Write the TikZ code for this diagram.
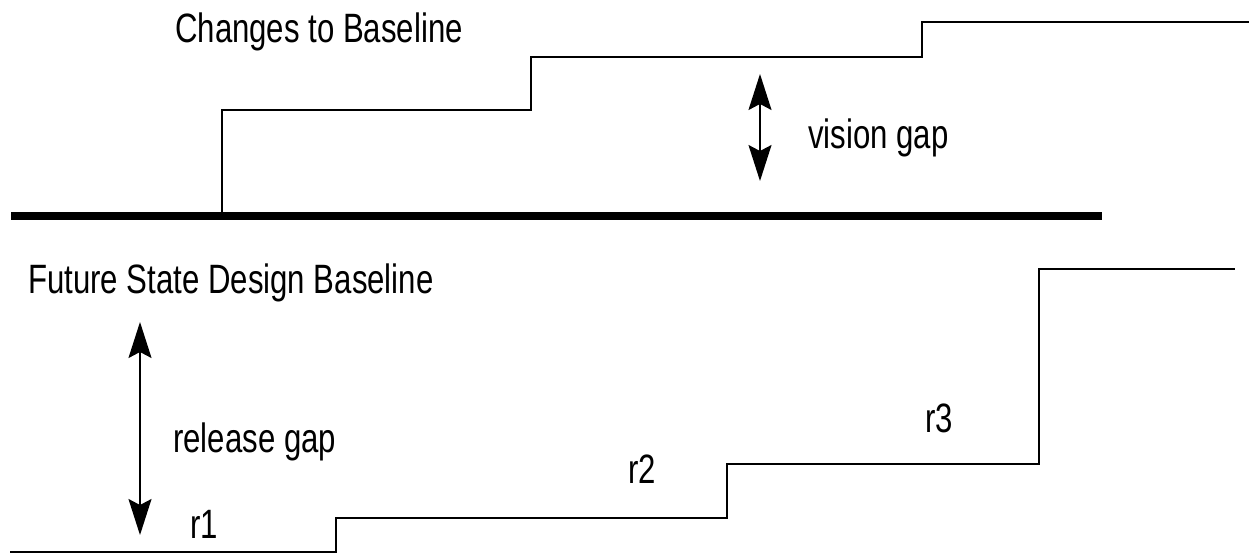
\documentclass[tikz,border=0pt]{standalone}
\usepackage{fontspec}
\setmainfont[FakeStretch=0.76]{Liberation Sans}
\usetikzlibrary{arrows.meta}
\begin{document}
\begin{tikzpicture}[x=1pt,y=-1pt,
  lbl/.style={anchor=base west,inner sep=0pt,font=\fontsize{41}{49}\selectfont},
  stair/.style={line width=2pt,line join=miter},
  gaparrow/.style={line width=1.6pt,{Stealth[length=36pt,width=23pt,inset=6pt]}-{Stealth[length=36pt,width=23pt,inset=6pt]}}]
\useasboundingbox (0,0) rectangle (1249,554);
% thick baseline
\draw[line width=8pt] (11,216) -- (1102,216);
% upper staircase (changes to baseline)
\draw[stair] (222,212) -- (222,110) -- (531,110) -- (531,57) -- (922,57) -- (922,22) -- (1249,22);
% lower staircase (releases)
\draw[stair] (10,552) -- (336,552) -- (336,518) -- (727,518) -- (727,464) -- (1039,464) -- (1039,269) -- (1235,269);
% labels
\node[lbl] (chg) at (175,42) {Changes to Baseline};
\node[lbl] (fut) at (28,293) {Future State Design Baseline};
\node[lbl] (vis) at (808,148) {vision gap};
\node[lbl] (rel) at (173,452) {release gap};
\node[lbl] (r1) at (190,538) {r1};
\node[lbl] (r2) at (628,483) {r2};
\node[lbl] (r3) at (925,432) {r3};
% gap arrows
\coordinate (vtop) at (760,74);
\coordinate (vbot) at (760,181);
\draw[gaparrow] (vtop) -- (vbot);
\coordinate (rtop) at (140,322);
\coordinate (rbot) at (140,535);
\draw[gaparrow] (rtop) -- (rbot);
\end{tikzpicture}
\end{document}
